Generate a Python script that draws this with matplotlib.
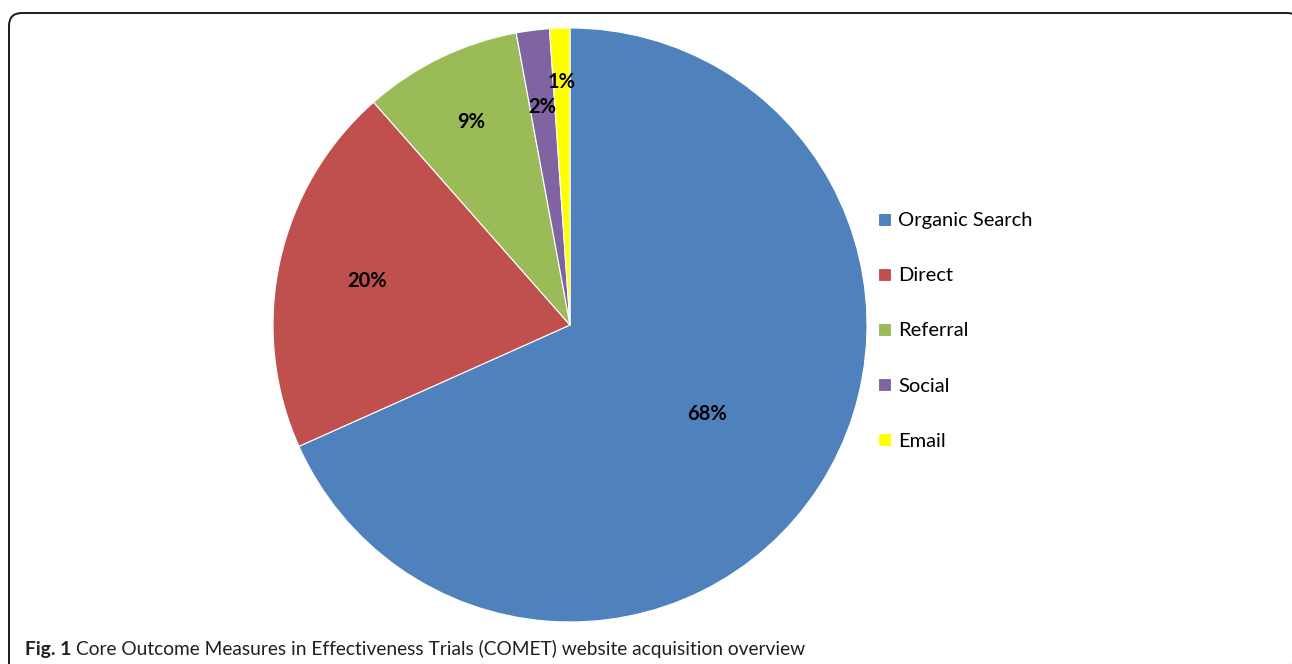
import matplotlib

matplotlib.use("Agg")
import matplotlib.pyplot as plt
import numpy as np
from matplotlib.patches import FancyBboxPatch

# Traffic share by acquisition channel (percent)
channels = ["Organic Search", "Direct", "Referral", "Social", "Email"]
shares = [68.3, 20.2, 8.6, 1.8, 1.1]
pct_labels = ["68%", "20%", "9%", "2%", "1%"]

COLORS = ["#4F81BD", "#C0504D", "#9BBB59", "#8064A2", "#FFFF00"]
LABEL_RADII = [0.55, 0.70, 0.76, 0.74, 0.82]
FONT = "Lato"
CAPTION = "Core Outcome Measures in Effectiveness Trials (COMET) website acquisition overview"

W, H = 1292, 664
fig = plt.figure(figsize=(W / 100, H / 100), dpi=100)
fig.patch.set_facecolor("white")

# Background axes in pixel coordinates for the frame and caption
bg = fig.add_axes([0, 0, 1, 1], zorder=0)
bg.set_xlim(0, W)
bg.set_ylim(H, 0)
bg.axis("off")
bg.add_patch(FancyBboxPatch((9, 13), 1291, 700, boxstyle="round,pad=0,rounding_size=13",
                            linewidth=1.4, edgecolor="#1a1a1a", facecolor="none"))

cap_bold = bg.text(25, 655, "Fig. 1", fontsize=13.9, fontweight="bold", family=FONT,
                   color="#231f20", va="baseline", ha="left")
fig.canvas.draw()
bb = cap_bold.get_window_extent()
x_next = bg.transData.inverted().transform((bb.x1, 0))[0] + 5
bg.text(x_next, 655, CAPTION, fontsize=13.8, family=FONT, color="#231f20",
        va="baseline", ha="left")

# Pie axes: centre (570, 325) px, radius 297 px
cx, cy, r = 570, 325, 297
ax = fig.add_axes([(cx - r) / W, (H - cy - r) / H, 2 * r / W, 2 * r / H], zorder=1)
ax.set_facecolor("none")
wedges, _ = ax.pie(shares, colors=COLORS, startangle=90, counterclock=False, radius=1,
                   wedgeprops=dict(edgecolor="white", linewidth=0.8))
ax.set_xlim(-1, 1)
ax.set_ylim(-1, 1)
ax.set_aspect("equal")

for w, lbl, rad in zip(wedges, pct_labels, LABEL_RADII):
    ang = np.deg2rad((w.theta1 + w.theta2) / 2)
    ax.text(rad * np.cos(ang), rad * np.sin(ang), lbl, ha="center", va="center",
            fontsize=14.5, fontweight="bold", family=FONT, color="black")

fig.legend(wedges, channels, loc="center left", bbox_to_anchor=(878 / W, (H - 331) / H),
           frameon=False, prop={"family": FONT, "size": 14.5}, handlelength=0.65,
           handleheight=0.65, handletextpad=0.35, labelspacing=1.89, borderpad=0,
           borderaxespad=0)

fig.savefig("out.png", dpi=100, facecolor="white")
